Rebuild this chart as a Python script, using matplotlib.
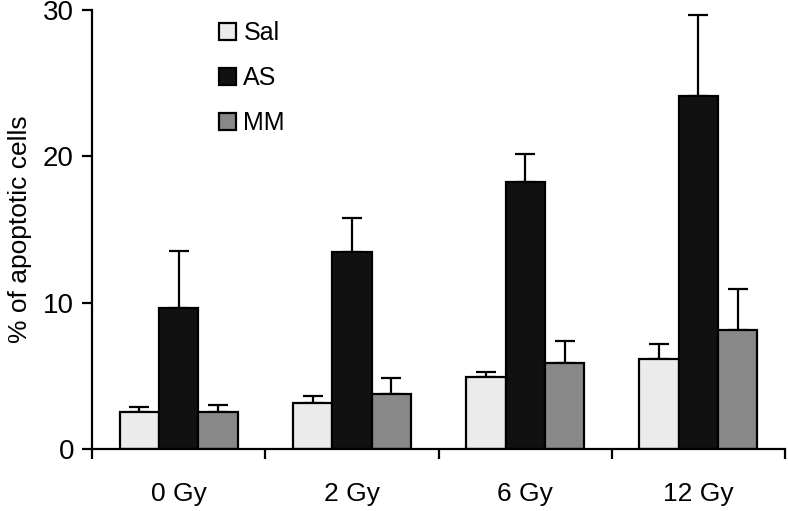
import numpy as np
import matplotlib.pyplot as plt
from matplotlib.patches import Patch

plt.rcParams['font.family'] = ['Liberation Sans', 'DejaVu Sans']

#### data
doses = ['0 Gy', '2 Gy', '6 Gy', '12 Gy']
groups = ['Sal', 'AS', 'MM']
sal = [2.55, 3.15, 4.95, 6.15]
sal_err = [0.3, 0.45, 0.3, 1.05]
as_ = [9.65, 13.45, 18.25, 24.15]
as_err = [3.9, 2.35, 1.9, 5.5]
mm = [2.55, 3.75, 5.85, 8.1]
mm_err = [0.45, 1.1, 1.55, 2.85]
colors = ['#ebebeb', '#111111', '#888888']

values = [sal, as_, mm]
errors = [sal_err, as_err, mm_err]

fig = plt.figure(figsize=(7.88, 5.11), dpi=100)
ax = fig.add_axes([0.1168, 0.1213, 0.8795, 0.8591])

x = np.arange(len(doses))
w = 0.227
for i in range(3):
    pos = x + (i - 1) * w
    ax.bar(pos, values[i], w, color=colors[i], edgecolor='black', linewidth=1.6, zorder=2)
    ax.errorbar(pos, values[i], yerr=[np.zeros(len(doses)), errors[i]], fmt='none',
                ecolor='black', elinewidth=1.6, capsize=7.5, capthick=1.6, zorder=1)

ax.set_xlim(-0.5, 3.5)
ax.set_ylim(0, 30)
ax.set_yticks([0, 10, 20, 30])
ax.set_xticks(x)
ax.set_xticklabels(doses)
ax.set_xticks(np.arange(-0.5, 4, 1), minor=True)
ax.tick_params(axis='x', which='major', length=0, pad=24, labelsize=19)
ax.tick_params(axis='x', which='minor', length=7, width=1.6, direction='out')
ax.tick_params(axis='y', length=7, width=1.6, labelsize=20, pad=6)
for s in ['top', 'right']:
    ax.spines[s].set_visible(False)
for s in ['left', 'bottom']:
    ax.spines[s].set_linewidth(1.6)

ax.set_ylabel('% of apoptotic cells', fontsize=19, labelpad=8)

handles = [Patch(facecolor=c, edgecolor='black', linewidth=1.6) for c in colors]
ax.legend(handles, groups, loc='upper left', bbox_to_anchor=(0.183, 0.975), frameon=False,
          fontsize=18, handlelength=0.68, handleheight=0.68, handletextpad=0.3,
          labelspacing=0.85, borderpad=0, borderaxespad=0)

plt.savefig('out.png', dpi=100)
